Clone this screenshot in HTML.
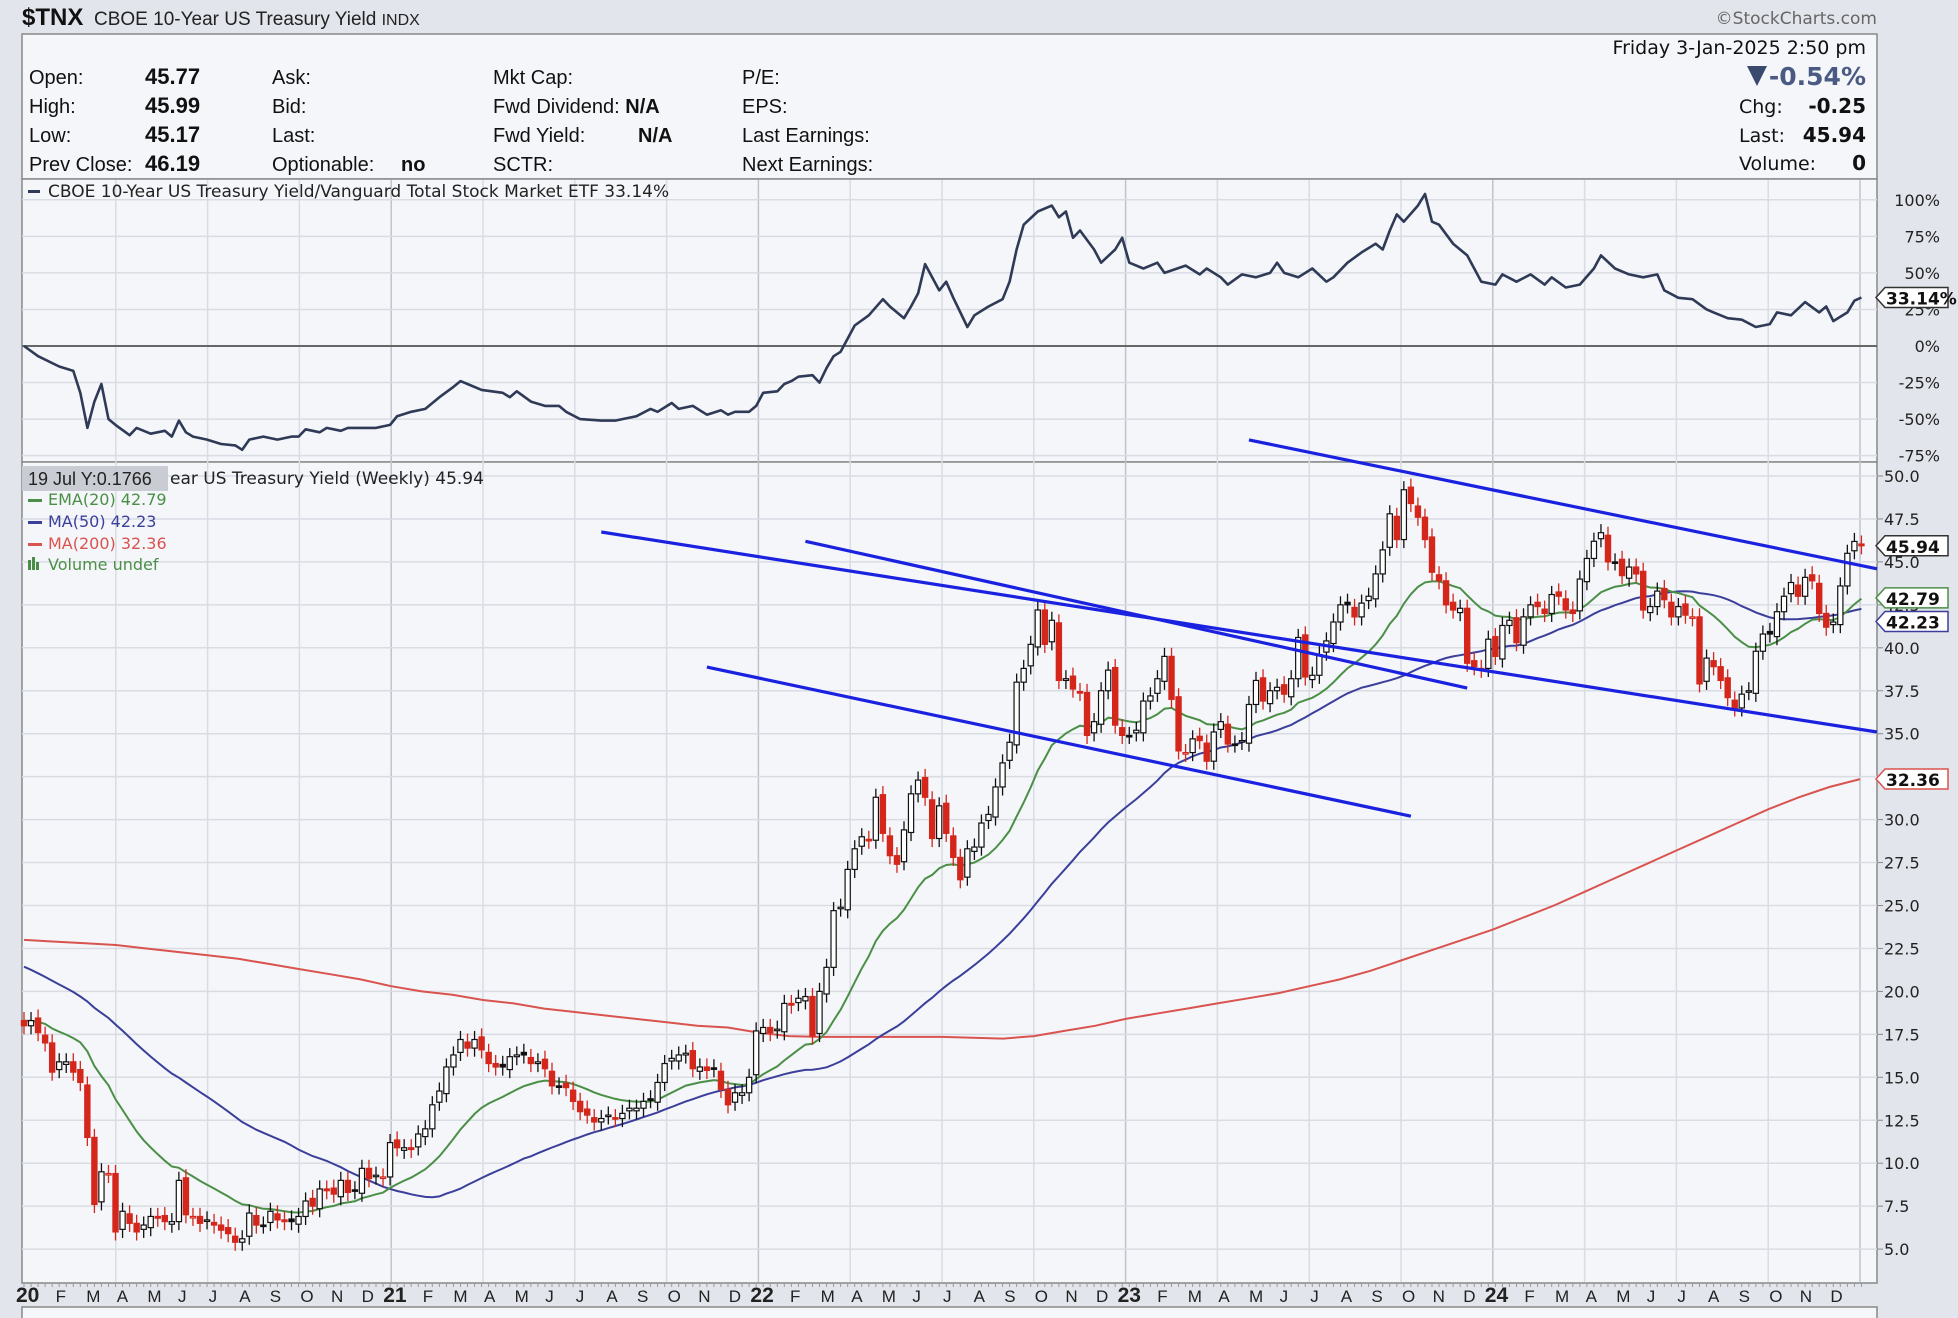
<!DOCTYPE html>
<html><head><meta charset="utf-8"><style>
html,body{margin:0;padding:0;background:#e2e5eb;}
svg{display:block;}
.t{font-family:"Liberation Sans Narrow","Liberation Sans",sans-serif;}
.v{font-family:"DejaVu Sans","Liberation Sans",sans-serif;}
</style></head><body>
<svg id="chart" width="1958" height="1318" viewBox="0 0 1958 1318" xmlns="http://www.w3.org/2000/svg">
<rect x="0" y="0" width="1958" height="1318" fill="#e2e5eb"/>
<g>
<text x="22" y="25" class="t" font-size="24" font-weight="bold" fill="#111">$TNX</text>
<text x="94" y="25" class="t" font-size="19" fill="#222">CBOE 10-Year US Treasury Yield <tspan font-size="16">INDX</tspan></text>
<text x="1877" y="24" text-anchor="end" class="v" font-size="17" fill="#666">©StockCharts.com</text>
</g>
<rect x="22" y="34" width="1855" height="145" fill="#f4f6fa" stroke="#888" stroke-width="1.5"/>
<g class="t" font-size="20" fill="#111">
<text x="29" y="84">Open:</text><text x="145" y="84" font-weight="bold" font-size="22">45.77</text>
<text x="29" y="113">High:</text><text x="145" y="113" font-weight="bold" font-size="22">45.99</text>
<text x="29" y="142">Low:</text><text x="145" y="142" font-weight="bold" font-size="22">45.17</text>
<text x="29" y="171">Prev Close:</text><text x="145" y="171" font-weight="bold" font-size="22">46.19</text>
<text x="272" y="84">Ask:</text>
<text x="272" y="113">Bid:</text>
<text x="272" y="142">Last:</text>
<text x="272" y="171">Optionable:</text><text x="401" y="171" font-weight="bold">no</text>
<text x="493" y="84">Mkt Cap:</text>
<text x="493" y="113">Fwd Dividend: <tspan font-weight="bold">N/A</tspan></text>
<text x="493" y="142">Fwd Yield:</text><text x="638" y="142" font-weight="bold">N/A</text>
<text x="493" y="171">SCTR:</text>
<text x="742" y="84">P/E:</text>
<text x="742" y="113">EPS:</text>
<text x="742" y="142">Last Earnings:</text>
<text x="742" y="171">Next Earnings:</text>
</g>
<g class="v" fill="#111">
<text x="1866" y="54" text-anchor="end" font-size="19">Friday  3-Jan-2025  2:50 pm</text>
<polygon points="1747,66 1767,66 1757,86" fill="#3a4a6e"/>
<text x="1866" y="85" text-anchor="end" font-size="25" font-weight="bold" fill="#4a5a82">-0.54%</text>
<text x="1739" y="113" font-size="19">Chg:</text><text x="1866" y="113" text-anchor="end" font-size="20" font-weight="bold">-0.25</text>
<text x="1739" y="142" font-size="19">Last:</text><text x="1866" y="142" text-anchor="end" font-size="20" font-weight="bold">45.94</text>
<text x="1739" y="170" font-size="19">Volume:</text><text x="1866" y="170" text-anchor="end" font-size="20" font-weight="bold">0</text>
</g>
<rect x="22" y="179" width="1855" height="283" fill="#f4f6fa" stroke="#888" stroke-width="1.5"/>
<rect x="22" y="462" width="1855" height="821" fill="#f4f6fa" stroke="#888" stroke-width="1.5"/>
<rect x="22" y="1307" width="1855" height="20" fill="#f4f6fa" stroke="#888" stroke-width="1.5"/>
<g id="grid"></g>
<g id="ratio"></g>
<g id="price"></g>
<g id="axes"></g>
<g id="overlay"></g>
</svg>
<script>
// ---- data ----
const preCloses = [26.7,27.3,27.8,27.4,26.8,26.6,26.5,26.6,27.6,26.3,25.9,24.4,24.1,25.0,25.6,25.7,25.3,25.0,24.7,24.0,23.2,22.1,21.3,20.9,20.7,20.6,19.8,20.4,20.5,21.2,20.5,20.6,18.6,17.4,15.4,16.1,15.2,15.5,17.2,19.0,17.2,16.8,15.3,15.7,17.5,17.9,19.4,18.2,18.3,18.8];
const closes = [
18.0,18.3,17.6,17.0,15.3, 15.9,15.9,15.3,14.7, 11.5,7.6,9.5,9.4, 6.0,7.2,6.5,6.0, 6.4,6.9,6.8,6.6,6.6, 9.0,7.0,6.9,6.5, 6.7,6.4,6.1,5.9,5.4, 5.6,7.1,6.4,6.4, 7.2,6.7,6.6,6.6, 6.9,7.8,7.5,8.5,8.4, 8.2,9.0,8.3,8.4, 9.7,9.1,9.3,9.2,
11.2,10.9,10.9,10.8, 11.7,12.0,13.4,14.2, 15.6,16.3,17.2,16.7,17.2, 16.6,15.8,15.6,15.6, 16.2,16.3,16.3,15.8, 15.9,15.5,14.5,14.5,14.4, 13.6,13.0,12.8,12.4, 12.6,12.8,12.6,12.9,13.2, 13.2,13.6,13.7,14.7, 15.8,16.1,16.3,16.4, 15.5,15.6,15.4,15.5,14.3, 13.4,14.1,14.1,15.0,
17.7,17.9,17.6,17.8, 19.3,19.2,19.6,19.7, 17.4,20.0,21.4,24.7,24.9, 27.1,28.3,29.0,28.8, 31.3,29.2,27.9,27.4, 29.4,31.5,32.3,31.3,28.9, 30.8,29.2,27.8,26.5, 28.3,28.4,29.8,30.3, 31.9,33.3,34.5,38.0, 38.8,40.2,42.2,40.2,41.6, 38.1,38.2,37.6,37.4, 34.9,35.7,37.5,38.7,
35.5,34.9,34.9,35.2, 36.9,37.2,38.2,39.5, 37.0,34.0,33.9,34.7,34.6, 33.4,35.1,35.7,34.4, 34.4,34.6,36.7,38.1,36.9, 37.5,37.7,37.3,38.2, 40.6,38.3,38.4,39.6,40.4, 41.5,42.5,42.5,41.8, 42.6,43.0,44.3,45.7, 47.8,46.3,49.2,48.4,47.6, 46.3,44.4,43.9,42.5, 42.2,42.3,39.1,38.9,38.8,
40.5,39.5,41.3,41.6, 40.3,41.8,42.5,42.4, 42.0,43.1,43.0,42.2,42.0, 44.0,45.2,46.2,46.7, 45.0,45.0,44.2,44.7, 44.3,42.2,42.4,43.3, 42.8,41.8,42.4,41.9,41.8, 37.9,39.4,38.9,38.1, 37.1,36.5,37.3,37.5, 39.8,40.8,40.8,42.1,43.0, 43.8,43.0,44.1,43.9, 42.0,41.2,41.5,43.6,
45.5,46.19,45.94];
const ma200Monthly = [23.0,22.9,22.8,22.7,22.5,22.3,22.1,21.9,21.6,21.3,21.0,20.7, 20.3,20.0,19.8,19.5,19.3,19.0,18.8,18.6,18.4,18.2,18.0,17.9, 17.6,17.4,17.35,17.35,17.35,17.35,17.35,17.3,17.25,17.4,17.7,18.0, 18.4,18.7,19.0,19.3,19.6,19.9,20.3,20.7,21.2,21.8,22.4,23.0, 23.6,24.3,25.0,25.8,26.6,27.4,28.2,29.0,29.8,30.6,31.3,31.9, 32.36];
const ratioWeeks = [0,2,5,7,8,9,10,11,12,13,15,16,18,20,21,22,23,24,26,28,30,31,32,34,36,38,39,40,42,43,45,46,48,50,52,53,55,57,59,61,62,63,65,68,69,70,72,74,76,77,79,82,84,85,87,89,90,92,93,95,97,99,100,101,103,104,105,107,108,109,110,112,113,114,115,116,118,120,122,123,125,126,127,128,130,131,132,134,135,137,139,140,141,142,144,146,147,148,149,150,152,153,155,156,157,159,161,162,165,167,168,170,171,173,175,177,178,179,181,183,185,186,188,190,192,193,194,195,196,198,199,200,201,203,205,207,209,210,212,214,216,217,219,221,223,224,226,228,230,232,233,235,237,239,240,242,244,246,248,249,251,253,255,256,257,259,260,261];
const ratioVals = [0,-7,-14,-17,-32,-56,-38,-26,-50,-54,-61,-56,-60,-58,-62,-51,-59,-62,-64,-67,-68,-71,-64,-62,-64,-62,-62,-57,-59,-56,-58,-56,-56,-56,-54,-48,-45,-43,-35,-28,-24,-26,-30,-32,-35,-31,-38,-41,-41,-45,-50,-51,-51,-50,-48,-43,-45,-39,-43,-41,-47,-44,-47,-45,-45,-41,-32,-31,-26,-24,-21,-20,-25,-15,-7,-4,14,21,32,27,19,27,36,56,38,44,33,13,21,27,32,44,66,83,92,96,88,92,74,79,66,57,66,74,57,53,57,50,55,49,53,47,42,49,47,50,57,50,47,53,44,47,57,64,70,66,79,90,85,96,104,85,83,70,62,44,42,49,44,49,42,47,40,42,53,62,53,49,47,49,38,33,32,25,23,19,18,13,15,23,21,30,23,27,17,23,31,33.14];
const priceTicks = [50.0,47.5,45.0,42.5,40.0,37.5,35.0,32.5,30.0,27.5,25.0,22.5,20.0,17.5,15.0,12.5,10.0,7.5,5.0];
const ratioTicks = [100,75,50,25,0,-25,-50,-75];
const monthLetters = ["J","F","M","A","M","J","J","A","S","O","N","D"];
const yearLabels = ["20","21","22","23","24"];
const tagValues = [45.94, 42.79, 42.23, 32.36];
// trendlines: [week index, price] endpoints
const trendStartWeek = [174,82,111,97];
const trendStartVal = [52.1,46.74,46.2,38.88];
const trendEndWeek = [264,264,205,197];
const trendEndVal = [44.6,35.1,37.66,30.2];

// ---- scales ----
const X0=24, WK=7.04, MON=30.6, L=22, R=1877;
const xw = i => X0 + i*WK;
const xm = m => X0 + m*MON;
const yp = v => 476 + (50-v)*17.18;
const yr = v => 346 - v*1.462;
const NS="http://www.w3.org/2000/svg";
function mk(tag, parent, attrs){const e=document.createElementNS(NS,tag);for(const k in attrs)e.setAttribute(k,attrs[k]);document.getElementById(parent).appendChild(e);return e;}

// grid
for(let m=0;m<=60;m+=3){
  const x=xm(m); if(x<=L+2||x>=R) continue;
  const yl = mk('line','grid',{x1:x,y1:180,x2:x,y2:1282,stroke:m%12===0?'#bfc3cc':'#d9dce3','stroke-width':1.5});
  
  
}
priceTicks.forEach(v=>{
  const g=mk('line','grid',{x1:L,y1:yp(v),x2:R,y2:yp(v),stroke:'#d9dce3','stroke-width':1.5});
  
  
  const t=mk('text','axes',{x:1884,y:yp(v)+6,'font-size':16,fill:'#222',class:'v'});
  t.textContent=v.toFixed(1);
  
  
  const tk=mk('line','axes',{x1:R,y1:yp(v),x2:R+6,y2:yp(v),stroke:'#888'});
  
  
});
ratioTicks.forEach(v=>{
  const g=mk('line','grid',{x1:L,y1:yr(v),x2:R,y2:yr(v),stroke:v===0?'#666':'#d9dce3','stroke-width':v===0?2:1.5});
  
  
  const t=mk('text','axes',{x:1940,y:yr(v)+6,'font-size':16,fill:'#222',class:'v','text-anchor':'end'});
  t.textContent=v+'%';
  
  
});
// x axis labels
for(let m=0;m<60;m++){
  const isYear=m%12===0;
  const t=mk('text','axes',{x:isYear?xm(m)-8:xm(m)+1,y:1302,'font-size':isYear?21:17,'font-weight':isYear?'bold':'normal',fill:'#222',class:'t'});
  t.textContent=isYear?yearLabels[m/12]:monthLetters[m%12];
  
  
}
for(let i=0;i<262;i++){
  const tk=mk('line','axes',{x1:xw(i),y1:1283,x2:xw(i),y2:1287,stroke:'#999'});
  
  
}

// ratio line
{
  let d=ratioWeeks.map((w,k)=>(k?'L':'M')+xw(w).toFixed(1)+','+yr(ratioVals[k]).toFixed(1)).join(' ');
  const p=mk('path','ratio',{d:d,fill:'none',stroke:'#2f3a56','stroke-width':2.6,'stroke-linejoin':'round'});
  
  
}

// moving averages
const all=preCloses.concat(closes);
const P=preCloses.length;
let ema=[],e=all[0];
for(let k=0;k<all.length;k++){e=k?e+(all[k]-e)*2/21:all[k];ema.push(e);}
const emaPts=[],ma50Pts=[],ma200Pts=[];
for(let i=0;i<closes.length;i++){
  emaPts.push([xw(i),yp(ema[P+i])]);
  let s=0;for(let k=P+i-49;k<=P+i;k++)s+=all[k];
  ma50Pts.push([xw(i),yp(s/50)]);
}
ma200Monthly.forEach((v,m)=>ma200Pts.push([xm(m),yp(v)]));
function line(pts,color,name,w){
  const p=mk('path','price',{d:pts.map((q,k)=>(k?'L':'M')+q[0].toFixed(1)+','+q[1].toFixed(1)).join(' '),fill:'none',stroke:color,'stroke-width':w});
  
  
}
line(ma200Pts,'#d9534f','ma200-line',2);
line(ma50Pts,'#3b3f9a','ma50-line',2);
line(emaPts,'#4b8f47','ema20-line',2);

// candles
for(let i=0;i<closes.length;i++){
  const c=closes[i], o=i?closes[i-1]+(i%3-1)*0.15:c+0.3;
  const up=c>=(i?closes[i-1]:o);
  const hi=Math.max(o,c)+0.5, lo=Math.min(o,c)-0.5;
  const col=up?'#111':'#d4261b';
  const x=xw(i);
  const wk=mk('line','price',{x1:x,y1:yp(hi),x2:x,y2:yp(lo),stroke:col,'stroke-width':1.3});
  
  
  const top=yp(Math.max(o,c)), h=Math.max(1.5,yp(Math.min(o,c))-top);
  const b=mk('rect','price',{x:x-2.6,y:top,width:5.2,height:h,fill:c>o?'#fff':col,stroke:col,'stroke-width':1.2});
  
  
}
// trendlines
for(let k=0;k<trendStartWeek.length;k++){
  const t=mk('line','overlay',{x1:xw(trendStartWeek[k]),y1:yp(trendStartVal[k]),x2:Math.min(R,xw(trendEndWeek[k])),y2:yp(trendEndVal[k]),stroke:'#1a22e0','stroke-width':3.2});
  
  
}
// value tags
function tag(y,txt,color,name){
  const p=mk('polygon','overlay',{points:`1876,${y} 1885,${y-10} 1948,${y-10} 1948,${y+10} 1885,${y+10}`,fill:'#fff',stroke:color,'stroke-width':1.5});
  
  
  const t=mk('text','overlay',{x:1886,y:y+7,'font-size':17,'font-weight':'bold',fill:'#111',class:'v'});
  t.textContent=txt;
  
  
}
const lastRatio=ratioVals[ratioVals.length-1];
tag(yr(lastRatio),lastRatio.toFixed(2)+'%','#333','ratio-last');
tag(yp(tagValues[0]),tagValues[0].toFixed(2),'#333','price-last');
tag(yp(tagValues[2])+12,tagValues[2].toFixed(2),'#3b3f9a','ma50');
tag(yp(tagValues[1])-2,tagValues[1].toFixed(2),'#4b8f47','ema20');
tag(yp(tagValues[3]),tagValues[3].toFixed(2),'#d9534f','ma200');
</script>
<div style="position:absolute;left:0;top:0;width:1958px;height:1318px;pointer-events:none;">
<svg width="1958" height="1318" style="position:absolute;left:0;top:0">
<g class="v" font-size="17">
<rect x="28" y="190" width="12" height="3" fill="#2f3a56"/>
<text x="48" y="197" fill="#222" font-family="DejaVu Sans, sans-serif">CBOE 10-Year US Treasury Yield/Vanguard Total Stock Market ETF 33.14%</text>
</g>
<g font-family="DejaVu Sans, sans-serif" font-size="17">
<text x="170" y="484" fill="#222">ear US Treasury Yield (Weekly) 45.94</text>
<rect x="22" y="466" width="146" height="25" fill="#c9ccd2"/>
<text x="28" y="485" fill="#222" font-family="Liberation Sans Narrow, Liberation Sans, sans-serif" font-size="18">19 Jul Y:0.1766</text>
<rect x="28" y="499" width="14" height="3" fill="#4b8f47"/><text x="48" y="505" fill="#4b8f47" font-size="16">EMA(20) 42.79</text>
<rect x="28" y="521" width="14" height="3" fill="#3b3f9a"/><text x="48" y="527" fill="#3b3f9a" font-size="16">MA(50) 42.23</text>
<rect x="28" y="543" width="14" height="3" fill="#d9534f"/><text x="48" y="549" fill="#d9534f" font-size="16">MA(200) 32.36</text>
<rect x="28" y="560" width="3" height="10" fill="#4b8f47"/><rect x="32" y="557" width="3" height="13" fill="#4b8f47"/><rect x="36" y="562" width="3" height="8" fill="#4b8f47"/>
<text x="48" y="570" fill="#4b8f47" font-size="16">Volume undef</text>
</g>
</svg>
</div>
</body></html>
